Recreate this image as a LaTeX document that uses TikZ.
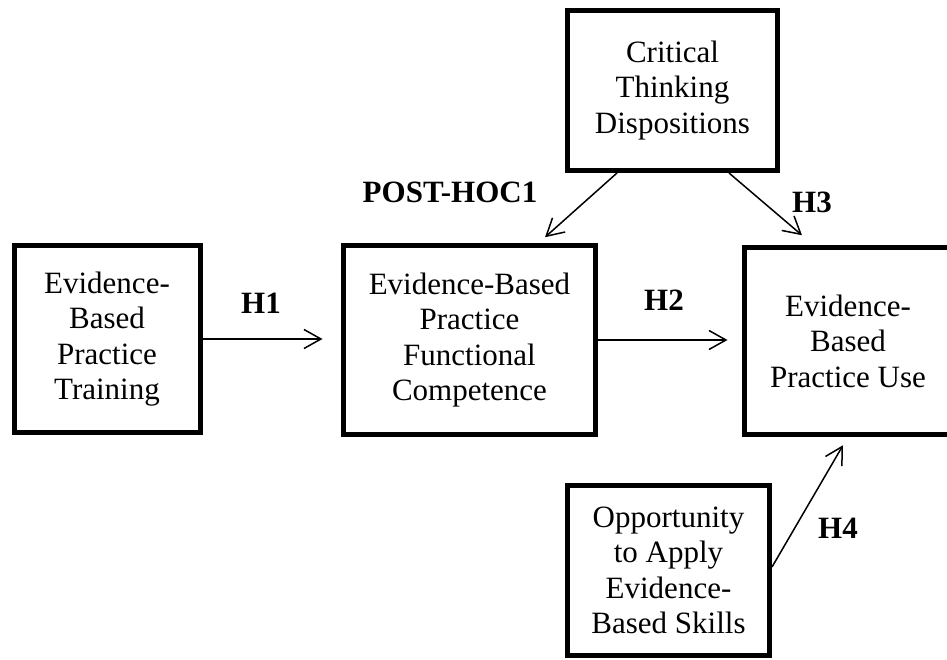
\documentclass[tikz,border=0pt]{standalone}
\usepackage{fontspec}
\setmainfont{Liberation Serif}
\usetikzlibrary{arrows.meta}
\begin{document}
\begin{tikzpicture}[x=1pt,y=-1pt,
  box/.style={draw, line width=5pt, inner sep=0pt, align=center,
    font=\fontsize{31}{35.5}\selectfont},
  hyp/.style={inner sep=0pt, font=\fontsize{31}{35.5}\selectfont\bfseries},
  link/.style={line width=1.5pt, -{Straight Barb[length=17pt,width=19pt]}}]
\useasboundingbox (0,0) rectangle (947,660);
\clip (0,0) rectangle (947,660);

% constructs
\node[box, minimum width=186pt, minimum height=186.5pt] (train) at (107,339)
  {Evidence-\\Based\\Practice\\Training};
\node[box, minimum width=252pt, minimum height=188.5pt] (comp) at (469.5,340)
  {Evidence-Based\\Practice\\Functional\\Competence};
\node[box, minimum width=210pt, minimum height=160pt] (crit) at (672.5,90.5)
  {Critical\\Thinking\\Dispositions};
\node[box, minimum width=207pt, minimum height=187.5pt] (use) at (848,341)
  {Evidence-\\Based\\Practice Use};
\node[box, minimum width=202pt, minimum height=170pt] (opp) at (668.5,570.5)
  {Opportunity\\to Apply\\Evidence-\\Based Skills};

% hypothesised paths
\draw[link, shorten >=18.5pt] (train.east) -- (train.east -| comp.west);
\draw[link, shorten >=14.5pt] (comp.east) -- (comp.east -| use.west);
\draw[link] ([xshift=-55.5pt]crit.south) -- ([xshift=75.5pt,yshift=6pt]comp.north);
\draw[link] ([xshift=56.5pt]crit.south) -- ([xshift=-46pt,yshift=9.5pt]use.north);
\draw[link] ([yshift=3.5pt]opp.east) -- ([xshift=-5pt,yshift=-8pt]use.south);

% path labels
\node[hyp] (h1) at (261,303) {H1};
\node[hyp] (h2) at (664,300) {H2};
\node[hyp] (h3) at (812,202) {H3};
\node[hyp] (ph) at (450,192) {POST-HOC1};
\node[hyp] (h4) at (838,528) {H4};
\end{tikzpicture}
\end{document}
